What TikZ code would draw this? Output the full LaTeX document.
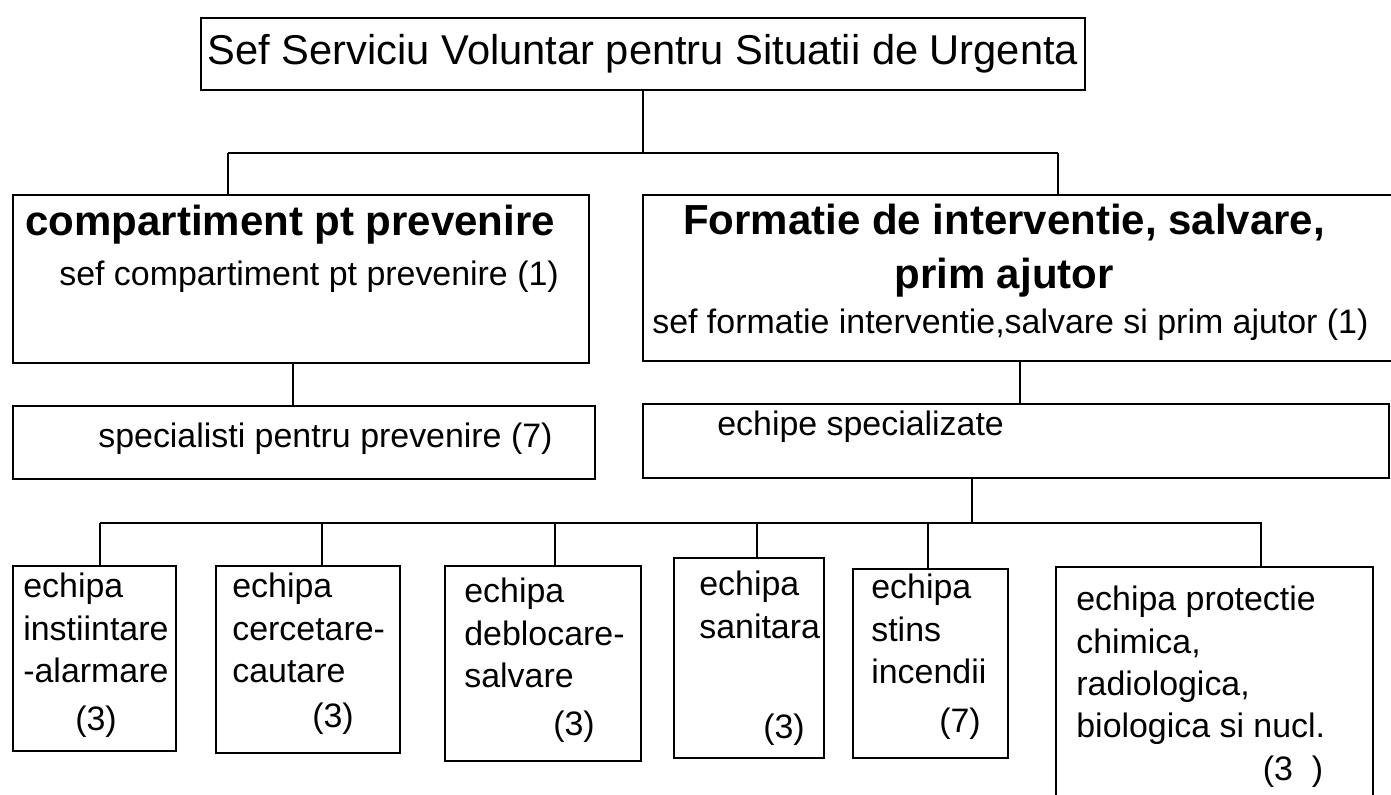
\documentclass[tikz,border=0pt]{standalone}
\usepackage{fontspec}
\setmainfont{Liberation Sans}
\usepackage{tikz}
\usetikzlibrary{positioning, calc}

\begin{document}
\begin{tikzpicture}[x=0.02cm, y=-0.02cm,
    box/.style={draw, line width=1.4pt, inner sep=0pt},
    ed/.style={-, line width=1.4pt},
    big/.style={font=\fontsize{23.7}{30.6}\selectfont, inner sep=0pt},
    hd/.style={font=\bfseries\fontsize{23.9}{30.6}\selectfont, inner sep=0pt, align=center},
    tx/.style={font=\fontsize{19.3}{24}\selectfont, inner sep=0pt, align=left, anchor=north west},
    ln/.style={font=\fontsize{19.3}{24}\selectfont, inner sep=0pt, anchor=base west},
    num/.style={font=\fontsize{19.3}{24}\selectfont, inner sep=0pt, anchor=base}
  ]
    \useasboundingbox (0,0) rectangle (1391,794);
    \node[box, big, minimum width=17.68cm, minimum height=1.44cm] (top) at (643,54)
      {Sef Serviciu Voluntar pentru Situatii de Urgenta};
    \node[box, minimum width=11.52cm, minimum height=3.36cm] (comp) at (301,279) {};
    \node[box, minimum width=15.06cm, minimum height=3.32cm] (form) at (1019.5,278) {};
    \node[box, minimum width=11.64cm, minimum height=1.46cm] (spec) at (304,442.5) {};
    \node[box, minimum width=14.92cm, minimum height=1.48cm] (echs) at (1016,441) {};
    \node[box, minimum width=3.26cm, minimum height=3.70cm] (e1) at (94.5,658.5) {};
    \node[box, minimum width=3.68cm, minimum height=3.74cm] (e2) at (308,659.5) {};
    \node[box, minimum width=3.92cm, minimum height=3.90cm] (e3) at (543,663.5) {};
    \node[box, minimum width=3.00cm, minimum height=4.00cm] (e4) at (749,658) {};
    \node[box, minimum width=3.10cm, minimum height=3.78cm] (e5) at (930.5,663.5) {};
    \node[box, minimum width=6.34cm, minimum height=4.76cm] (e6) at (1214.5,686) {};

    \node[hd, anchor=base west] (compT) at (25,235) {compartiment pt prevenire};
    \node[ln] (compS) at (59,285) {sef compartiment pt prevenire (1)};
    \node[hd, anchor=north] (formT) at (1004,204) {Formatie de interventie, salvare,\\ prim ajutor};
    \node[ln] (formS) at (652,333) {sef formatie interventie,salvare si prim ajutor (1)};
    \node[ln] (specT) at (98,447) {specialisti pentru prevenire (7)};
    \node[ln] (echsT) at (717,435) {echipe specializate};

    \node[tx] (e1t) at (23,573) {echipa\\ instiintare\\ -alarmare};
    \node[tx] (e2t) at (232,573) {echipa\\ cercetare-\\ cautare};
    \node[tx] (e3t) at (464,578) {echipa\\ deblocare-\\ salvare};
    \node[tx] (e4t) at (699,571) {echipa\\ sanitara};
    \node[tx] (e5t) at (871,574) {echipa\\ stins\\ incendii};
    \node[tx] (e6t) at (1076,586) {echipa protectie\\ chimica,\\ radiologica,\\ biologica si nucl.};
    \node[num] (n1) at (96,730) {(3)};
    \node[num] (n2) at (333,727) {(3)};
    \node[num] (n3) at (574,735) {(3)};
    \node[num] (n4) at (784,738) {(3)};
    \node[num] (n5) at (960,732) {(7)};
    \node[num] (n6) at (1293,780) {(3\ \ )};

    \coordinate (j0) at (643,153);
    \coordinate (jl) at (228,153);
    \coordinate (jr) at (1058,153);
    \draw[ed] (top) -- (j0);
    \draw[ed] (jl) -- (jr);
    \draw[ed] (jl) -- (jl |- comp.north);
    \draw[ed] (jr) -- (jr |- form.north);
    \coordinate (dl) at (293,0);
    \draw[ed] (dl |- comp.south) -- (dl |- spec.north);
    \coordinate (dr) at (1020,0);
    \draw[ed] (dr |- form.south) -- (dr |- echs.north);
    \coordinate (b0) at (972,523);
    \coordinate (bl) at (100,523);
    \coordinate (br) at (1262,523);
    \draw[ed] (b0 |- echs.south) -- (b0);
    \draw[ed] (bl) -- (br);
    \foreach \n/\x in {e1/100, e2/322, e3/555, e4/757, e5/928, e6/1261}
      \draw[ed] (\x,523) -- (\n.north -| \x,523);
  \end{tikzpicture}
\end{document}
